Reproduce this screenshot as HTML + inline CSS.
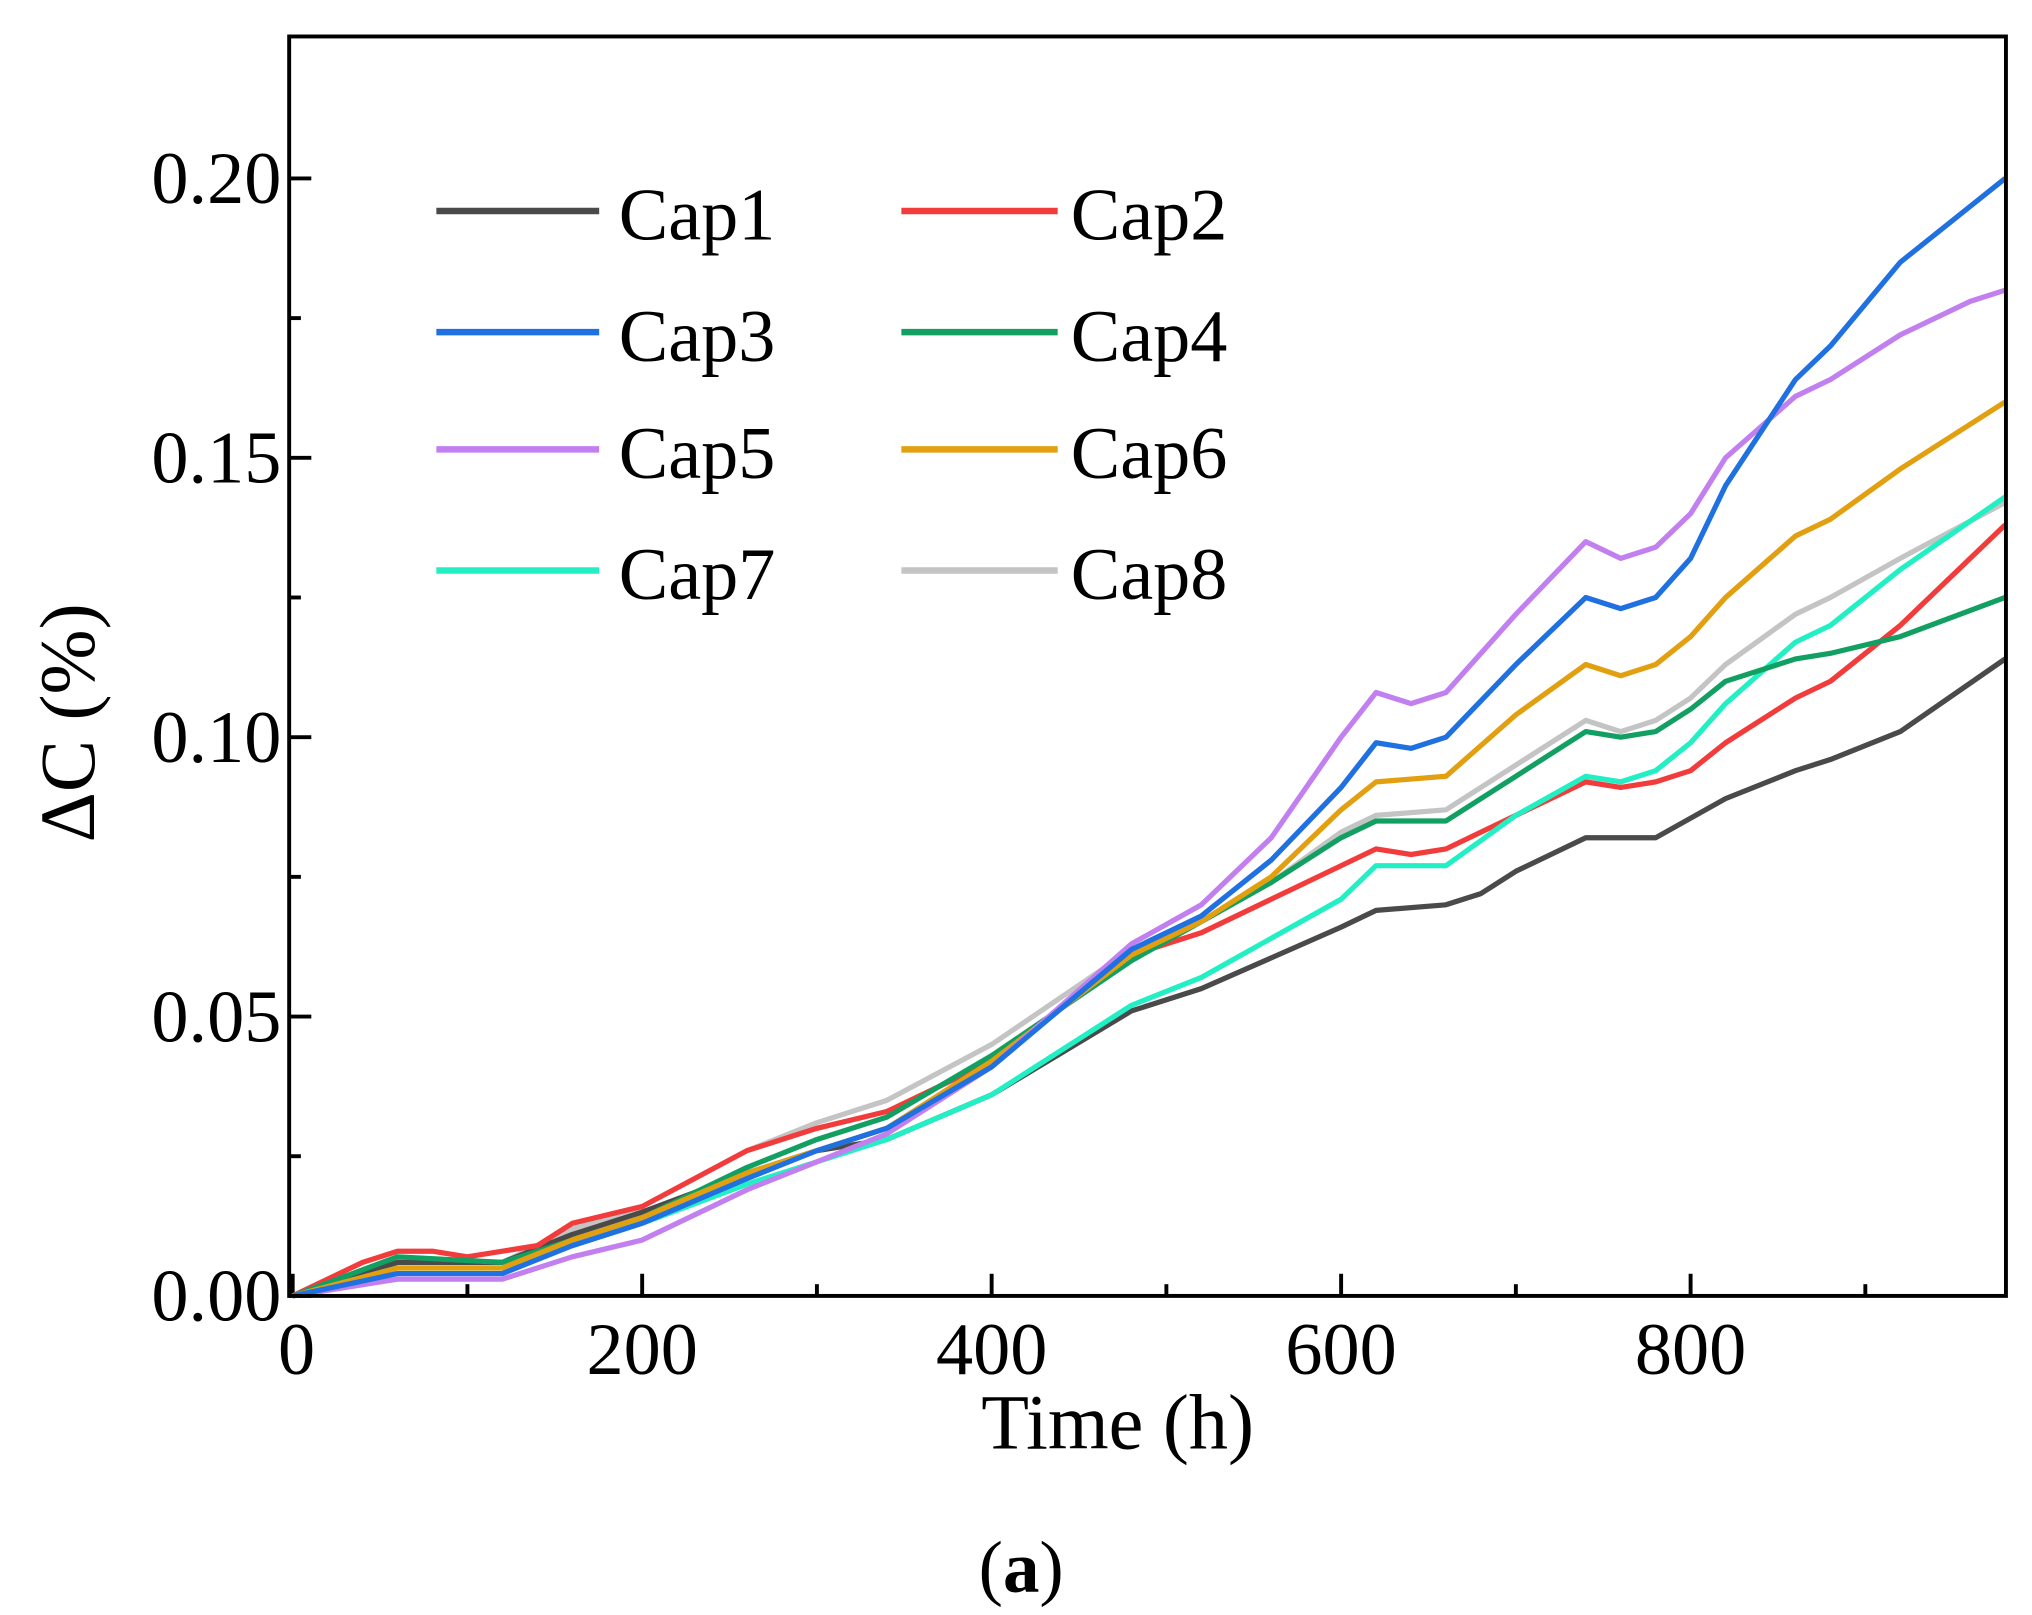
<!DOCTYPE html>
<html><head><meta charset="utf-8"><style>
html,body{margin:0;padding:0;background:#fff;}
svg{display:block;font-family:"Liberation Serif",serif;}
</style></head><body>
<svg id="chart" width="2032" height="1615" viewBox="0 0 1560 1240" preserveAspectRatio="none" xmlns="http://www.w3.org/2000/svg">
<rect x="0" y="0" width="1560" height="1240" fill="#fff"/>
<g id="axes"></g>
<g id="series"></g>
<rect x="222" y="28" width="1318" height="967" fill="none" stroke="#000" stroke-width="3"/>
<g id="legend"></g>
<text x="858" y="1112" font-size="60" text-anchor="middle">Time (h)</text>
<text transform="translate(72,555) rotate(-90)" font-size="60" text-anchor="middle">ΔC (%)</text>
<text x="784" y="1222" font-size="56" text-anchor="middle">(<tspan font-weight="bold">a</tspan>)</text>
</svg>
<script>
const times1 = [0,40,60,100,120,160,200,260,300,340,400,480,520,600,620,660,680,700,740,780,820,860,880,920,980];
const cap1 = [0,0.004,0.006,0.006,0.006,0.011,0.015,0.022,0.026,0.028,0.036,0.051,0.055,0.066,0.069,0.070,0.072,0.076,0.082,0.082,0.089,0.094,0.096,0.101,0.114];
const times2 = [0,40,60,80,100,120,140,160,200,260,300,340,400,480,520,600,620,640,660,700,740,760,780,800,820,860,880,920,980];
const cap2 = [0,0.006,0.008,0.008,0.007,0.008,0.009,0.013,0.016,0.026,0.030,0.033,0.042,0.061,0.065,0.077,0.080,0.079,0.080,0.086,0.092,0.091,0.092,0.094,0.099,0.107,0.110,0.120,0.138];
const times3 = [0,60,120,160,200,260,300,340,400,480,520,560,600,620,640,660,700,740,760,780,800,820,860,880,920,960,980];
const cap3 = [0,0.004,0.004,0.009,0.013,0.021,0.026,0.030,0.041,0.062,0.068,0.078,0.091,0.099,0.098,0.100,0.113,0.125,0.123,0.125,0.132,0.145,0.164,0.170,0.185,0.195,0.200];
const cap5 = [0,0.003,0.003,0.007,0.010,0.019,0.024,0.029,0.041,0.063,0.070,0.082,0.100,0.108,0.106,0.108,0.122,0.135,0.132,0.134,0.140,0.150,0.161,0.164,0.172,0.178,0.180];
const times4 = [0,60,120,160,200,260,300,340,400,480,520,560,600,620,660,700,740,760,780,800,820,860,880,920,980];
const cap4 = [0,0.007,0.006,0.010,0.014,0.023,0.028,0.032,0.043,0.060,0.067,0.074,0.082,0.085,0.085,0.093,0.101,0.100,0.101,0.105,0.110,0.114,0.115,0.118,0.125];
const cap6 = [0,0.005,0.005,0.010,0.014,0.022,0.026,0.030,0.042,0.061,0.067,0.075,0.087,0.092,0.093,0.104,0.113,0.111,0.113,0.118,0.125,0.136,0.139,0.148,0.160];
const cap8 = [0,0.006,0.006,0.012,0.016,0.026,0.031,0.035,0.045,0.062,0.067,0.074,0.083,0.086,0.087,0.095,0.103,0.101,0.103,0.107,0.113,0.122,0.125,0.132,0.142];
const times7 = [0,60,120,160,200,260,300,340,400,480,520,600,620,660,700,740,760,780,800,820,860,880,920,980];
const cap7 = [0,0.005,0.005,0.009,0.013,0.020,0.024,0.028,0.036,0.052,0.057,0.071,0.077,0.077,0.086,0.093,0.092,0.094,0.099,0.106,0.117,0.120,0.130,0.143];
const xTicks = [0,200,400,600,800];
const xMinor = [100,300,500,700,900];
const yTicks = [0,0.05,0.10,0.15,0.20];
const yTickLabels = ["0.00","0.05","0.10","0.15","0.20"];
const yMinor = [0.025,0.075,0.125,0.175];

const NS="http://www.w3.org/2000/svg";
const X = t => 224.7 + t*1.3415;
const Y = v => 995 - v*4290;
function mk(tag, parent){const e=document.createElementNS(NS,tag);document.getElementById(parent).appendChild(e);return e;}

xTicks.forEach((t,i)=>{
  const l=mk('line','axes');
  
  
  l.setAttribute('x1',X(t));l.setAttribute('x2',X(t));l.setAttribute('y1',995);l.setAttribute('y2',978);l.setAttribute('stroke','#000');l.setAttribute('stroke-width','3');
  const tx=mk('text','axes');
  
  
  tx.setAttribute('x',X(t)+(t===0?3:0));tx.setAttribute('y',1055);tx.setAttribute('font-size','57');tx.setAttribute('text-anchor','middle');tx.textContent=t;
});
xMinor.forEach(t=>{
  const l=mk('line','axes');
  
  
  l.setAttribute('x1',X(t));l.setAttribute('x2',X(t));l.setAttribute('y1',995);l.setAttribute('y2',986);l.setAttribute('stroke','#000');l.setAttribute('stroke-width','3');
});
yTicks.forEach((v,i)=>{
  const l=mk('line','axes');
  
  
  l.setAttribute('x1',222);l.setAttribute('x2',239);l.setAttribute('y1',Y(v));l.setAttribute('y2',Y(v));l.setAttribute('stroke','#000');l.setAttribute('stroke-width','3');
  const tx=mk('text','axes');
  
  
  tx.setAttribute('x',216);tx.setAttribute('y',Y(v)+19);tx.setAttribute('font-size','57');tx.setAttribute('text-anchor','end');tx.textContent=yTickLabels[i];
});
yMinor.forEach(v=>{
  const l=mk('line','axes');
  
  
  l.setAttribute('x1',222);l.setAttribute('x2',231);l.setAttribute('y1',Y(v));l.setAttribute('y2',Y(v));l.setAttribute('stroke','#000');l.setAttribute('stroke-width','3');
});

const series=[
 ['Cap8',times4,cap8,'#c4c4c4'],
 ['Cap1',times1,cap1,'#4a4a4a'],
 ['Cap2',times2,cap2,'#f23c3c'],
 ['Cap7',times7,cap7,'#22f0c4'],
 ['Cap4',times4,cap4,'#12a062'],
 ['Cap6',times4,cap6,'#e2a010'],
 ['Cap5',times3,cap5,'#c27ff0'],
 ['Cap3',times3,cap3,'#1f70e0'],
];
series.forEach(s=>{
  const p=mk('polyline','series');
  
  
  p.setAttribute('points',s[1].map((t,i)=>X(t)+','+Y(s[2][i])).join(' '));
  p.setAttribute('fill','none');p.setAttribute('stroke',s[3]);p.setAttribute('stroke-width','4');p.setAttribute('stroke-linejoin','round');
});

const legendOrder=[['Cap1','#4a4a4a'],['Cap2','#f23c3c'],['Cap3','#1f70e0'],['Cap4','#12a062'],['Cap5','#c27ff0'],['Cap6','#e2a010'],['Cap7','#22f0c4'],['Cap8','#c4c4c4']];
const rowsY=[162,255,345,438];
legendOrder.forEach((e,i)=>{
  const col=i%2,row=Math.floor(i/2);
  const x0=col?692:335, x1=col?812:460, tx=col?822:475, y=rowsY[row];
  const l=mk('line','legend');
  
  
  l.setAttribute('x1',x0);l.setAttribute('x2',x1);l.setAttribute('y1',y);l.setAttribute('y2',y);l.setAttribute('stroke',e[1]);l.setAttribute('stroke-width','5');
  const t=mk('text','legend');
  
  
  t.setAttribute('x',tx);t.setAttribute('y',y+22);t.setAttribute('font-size','57');t.textContent=e[0];
});
</script>
</body></html>
